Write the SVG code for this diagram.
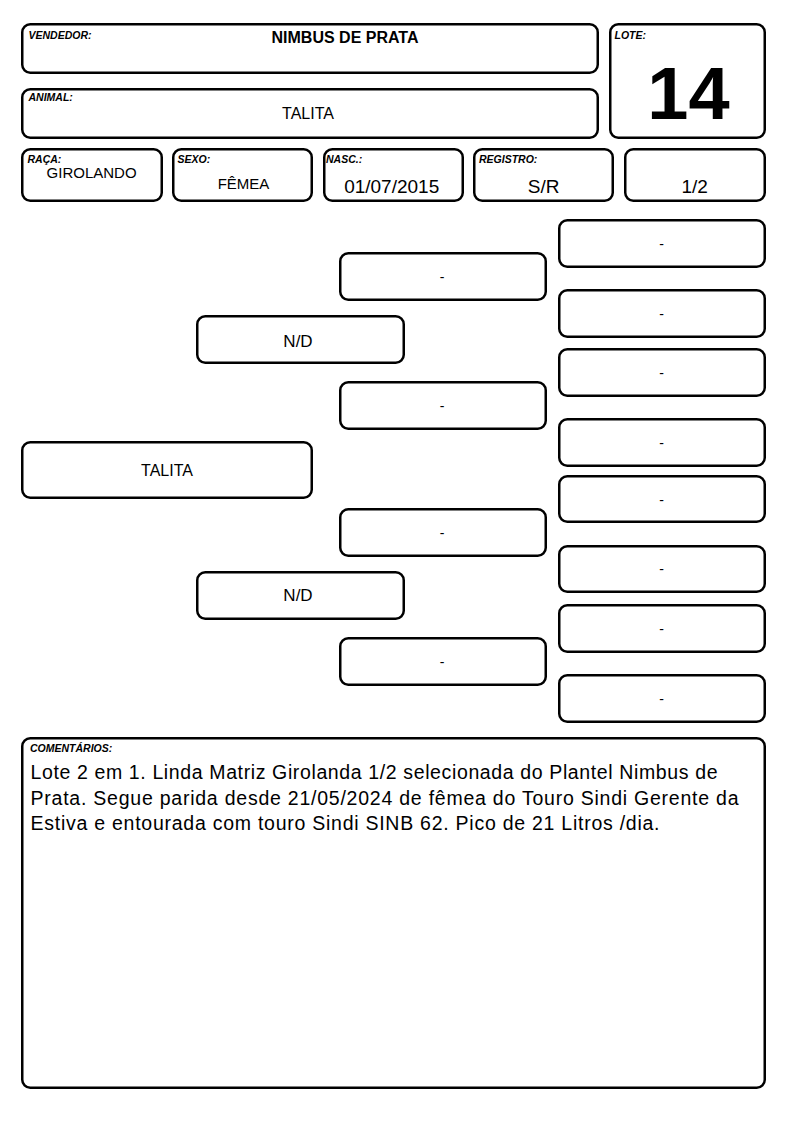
<svg xmlns="http://www.w3.org/2000/svg" width="794" height="1123" viewBox="0 0 794 1123">
<style>
.b{fill:#fff;stroke:#000;stroke-width:2.5}
.l{font-family:"Liberation Sans",Arial,sans-serif;font-size:10.5px;font-weight:bold;font-style:italic;fill:#000}
.v{font-family:"Liberation Sans",Arial,sans-serif;fill:#000;text-anchor:middle}
.d{font-family:"Liberation Sans",Arial,sans-serif;font-size:14px;fill:#000;text-anchor:middle}
.c{font-family:"Liberation Sans",Arial,sans-serif;font-size:19.5px;fill:#000}
</style>
<rect width="794" height="1123" fill="#fff"/>
<g id="connectors"/>
<g id="vendedor"><rect class="b" x="22.25" y="24.25" width="575.5" height="48.5" rx="8"/><text class="l" x="28.5" y="38.7">VENDEDOR:</text><text class="v" x="345" y="43" font-size="16" font-weight="bold">NIMBUS DE PRATA</text></g>
<g id="lote"><rect class="b" x="610.25" y="24.25" width="154.5" height="113.5" rx="8"/><text class="l" x="614.5" y="38.7">LOTE:</text><text class="v" x="688.5" y="118.5" font-size="74" font-weight="bold">14</text></g>
<g id="animal"><rect class="b" x="22.25" y="89.25" width="575.5" height="48.5" rx="8"/><text class="l" x="28.5" y="101">ANIMAL:</text><text class="v" x="308" y="119" font-size="16">TALITA</text></g>
<g id="raca"><rect class="b" x="22.25" y="149.25" width="139.5" height="51.5" rx="8"/><text class="l" x="27.5" y="162.5">RAÇA:</text><text class="v" x="91.6" y="178" font-size="15">GIROLANDO</text></g>
<g id="sexo"><rect class="b" x="173.25" y="149.25" width="138.5" height="51.5" rx="8"/><text class="l" x="177.5" y="162.5">SEXO:</text><text class="v" x="243.5" y="189" font-size="15">FÊMEA</text></g>
<g id="nasc"><rect class="b" x="324.25" y="149.25" width="138.5" height="51.5" rx="8"/><text class="l" x="326" y="162.5">NASC.:</text><text class="v" x="391.7" y="193" font-size="19">01/07/2015</text></g>
<g id="registro"><rect class="b" x="474.25" y="149.25" width="138.5" height="51.5" rx="8"/><text class="l" x="479" y="162.5">REGISTRO:</text><text class="v" x="543.7" y="193" font-size="19">S/R</text></g>
<g id="grau"><rect class="b" x="625.25" y="149.25" width="139.5" height="51.5" rx="8"/><text class="v" x="694.7" y="193" font-size="19">1/2</text></g>
<g id="animal-node"><rect class="b" x="22.25" y="442.25" width="289.5" height="55.5" rx="8"/><text class="v" x="167" y="476" font-size="16">TALITA</text></g>
<g id="pai"><rect class="b" x="197.25" y="316.25" width="206.5" height="46.5" rx="8"/><text class="v" x="298" y="347" font-size="17">N/D</text></g>
<g id="mae"><rect class="b" x="197.25" y="572.25" width="206.5" height="46.5" rx="8"/><text class="v" x="298" y="601" font-size="17">N/D</text></g>
<g id="avo1"><rect class="b" x="340.25" y="253.25" width="205.5" height="46.5" rx="8"/><text class="d" x="442" y="282">-</text></g>
<g id="avo2"><rect class="b" x="340.25" y="382.25" width="205.5" height="46.5" rx="8"/><text class="d" x="442" y="411">-</text></g>
<g id="avo3"><rect class="b" x="340.25" y="509.25" width="205.5" height="46.5" rx="8"/><text class="d" x="442" y="537.5">-</text></g>
<g id="avo4"><rect class="b" x="340.25" y="638.25" width="205.5" height="46.5" rx="8"/><text class="d" x="442" y="666.5">-</text></g>
<g id="bisavo1"><rect class="b" x="559.25" y="220.25" width="205.5" height="46.5" rx="8"/><text class="d" x="661.5" y="248.5">-</text></g>
<g id="bisavo2"><rect class="b" x="559.25" y="290.25" width="205.5" height="46.5" rx="8"/><text class="d" x="661.5" y="319">-</text></g>
<g id="bisavo3"><rect class="b" x="559.25" y="349.25" width="205.5" height="46.5" rx="8"/><text class="d" x="661.5" y="377.5">-</text></g>
<g id="bisavo4"><rect class="b" x="559.25" y="419.25" width="205.5" height="46.5" rx="8"/><text class="d" x="661.5" y="447.5">-</text></g>
<g id="bisavo5"><rect class="b" x="559.25" y="476.25" width="205.5" height="45.5" rx="8"/><text class="d" x="661.5" y="505">-</text></g>
<g id="bisavo6"><rect class="b" x="559.25" y="546.25" width="205.5" height="45.5" rx="8"/><text class="d" x="661.5" y="574">-</text></g>
<g id="bisavo7"><rect class="b" x="559.25" y="605.25" width="205.5" height="46.5" rx="8"/><text class="d" x="661.5" y="633.5">-</text></g>
<g id="bisavo8"><rect class="b" x="559.25" y="675.25" width="205.5" height="46.5" rx="8"/><text class="d" x="661.5" y="704">-</text></g>
<g id="comentarios"><rect class="b" x="22.25" y="738.25" width="742.5" height="349.5" rx="8"/><text class="l" x="30" y="752.3">COMENTÁRIOS:</text>
<text class="c" x="30.5" y="779.3" textLength="687" lengthAdjust="spacing">Lote 2 em 1. Linda Matriz Girolanda 1/2 selecionada do Plantel Nimbus de</text>
<text class="c" x="30.5" y="804.5" textLength="708" lengthAdjust="spacing">Prata. Segue parida desde 21/05/2024 de fêmea do Touro Sindi Gerente da</text>
<text class="c" x="30.5" y="830" textLength="629" lengthAdjust="spacing">Estiva e entourada com touro Sindi SINB 62. Pico de 21 Litros /dia.</text></g>
</svg>
